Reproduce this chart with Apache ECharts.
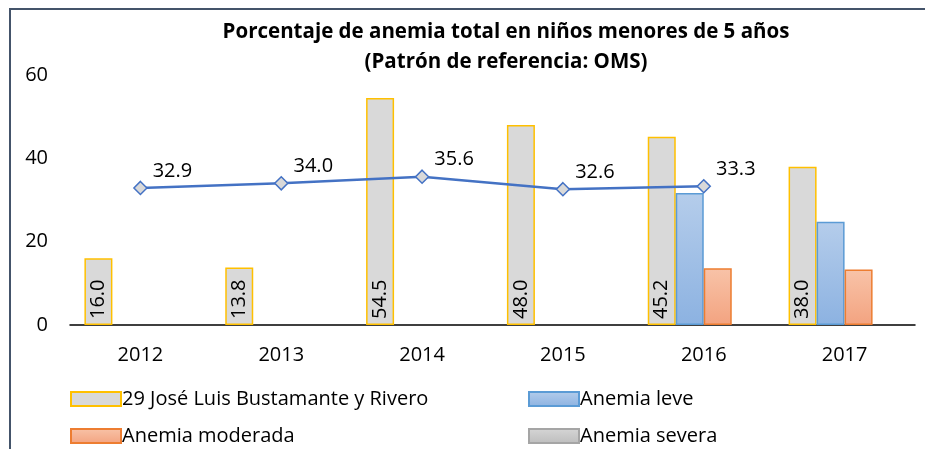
<!DOCTYPE html>
<html>
<head>
<meta charset="utf-8">
<script src="https://cdn.jsdelivr.net/npm/echarts@6/dist/echarts.min.js"></script>
<style>
  html, body { margin: 0; padding: 0; background: #fff; }
  #chart { width: 925px; height: 449px; }
</style>
</head>
<body>
<div id="chart"></div>
<script>
// --- Data ---
var years = ['2012', '2013', '2014', '2015', '2016', '2017'];
var totalDistrito = [16.0, 13.8, 54.5, 48.0, 45.2, 38.0];  // 29 José Luis Bustamante y Rivero
var anemiaLeve = [null, null, null, null, 31.7, 24.8];
var anemiaModerada = [null, null, null, null, 13.6, 13.3];
var anemiaSevera = [null, null, null, null, null, null];  // no visible bars
var regional = [32.9, 34.0, 35.6, 32.6, 33.3, null];  // line series
var yTicks = [0, 20, 40, 60];

var font = 'Open Sans';
var chart = echarts.init(document.getElementById('chart'));

function vgrad(top, bottom) {
  return new echarts.graphic.LinearGradient(0, 0, 0, 1, [
    { offset: 0, color: top },
    { offset: 1, color: bottom }
  ]);
}

// one legend box per entry, placed in a 2x2 layout
function legendAt(name, left, top) {
  return {
    left: left, top: top, itemWidth: 50, itemHeight: 14, icon: 'rect',
    textStyle: { fontSize: 20, color: '#000', fontFamily: font, padding: [0, 0, 0, -4] },
    data: [name]
  };
}

chart.setOption({
  animation: false,
  textStyle: { fontFamily: font },
  title: {
    text: 'Porcentaje de anemia total en niños menores de 5 años\n(Patrón de referencia: OMS)',
    left: 501,
    textAlign: 'center',
    top: 12,
    textStyle: { fontFamily: font, fontSize: 20.5, fontWeight: 'bold', color: '#000', lineHeight: 30 }
  },
  graphic: [{
    type: 'polyline',
    shape: { points: [[10, 449], [10, 9], [925, 9]] },
    style: { stroke: '#44546A', lineWidth: 2, fill: null }
  }],
  grid: { left: 70, right: 10, top: 75, bottom: 124, containLabel: false },
  legend: [
    legendAt('29 José Luis Bustamante y Rivero', 65, 384),
    legendAt('Anemia leve', 523, 384),
    legendAt('Anemia moderada', 65, 421),
    legendAt('Anemia severa', 523, 421)
  ],
  xAxis: {
    type: 'category',
    data: years,
    axisLine: { lineStyle: { color: '#000', width: 1.5 } },
    axisTick: { show: false },
    axisLabel: { fontSize: 20, color: '#000', margin: 20 }
  },
  yAxis: {
    type: 'value',
    min: yTicks[0],
    max: yTicks[yTicks.length - 1],
    interval: 20,
    splitLine: { show: false },
    axisLine: { show: false },
    axisTick: { show: false },
    axisLabel: { fontSize: 20, color: '#000', margin: 22 }
  },
  series: [{
    name: '29 José Luis Bustamante y Rivero',
    type: 'bar',
    data: totalDistrito,
    barWidth: 28,
    barGap: '0%',
    itemStyle: { color: '#D9D9D9', borderColor: '#FFC000', borderWidth: 1.5 },
    label: {
      show: true,
      position: 'insideBottom',
      rotate: 90,
      align: 'left',
      verticalAlign: 'middle',
      distance: 6,
      fontSize: 20,
      color: '#000',
      formatter: function (p) { return p.value.toFixed(1); }
    }
  }, {
    name: 'Anemia leve',
    type: 'bar',
    data: anemiaLeve,
    barWidth: 28,
    itemStyle: { color: vgrad('#B5CDEB', '#8CB2E1'), borderColor: '#5B9BD5', borderWidth: 1.5 }
  }, {
    name: 'Anemia moderada',
    type: 'bar',
    data: anemiaModerada,
    barWidth: 28,
    itemStyle: { color: vgrad('#F8C3A8', '#F3A380'), borderColor: '#ED7D31', borderWidth: 1.5 }
  }, {
    name: 'Anemia severa',
    type: 'bar',
    data: anemiaSevera,
    barWidth: 28,
    itemStyle: { color: vgrad('#D6D6D6', '#BDBDBD'), borderColor: '#A5A5A5', borderWidth: 1.5 }
  }, {
    name: 'Regional',
    type: 'line',
    data: regional,
    symbol: 'diamond',
    symbolSize: 13,
    lineStyle: { color: '#4472C4', width: 2.5 },
    itemStyle: { color: '#D9D9D9', borderColor: '#4472C4', borderWidth: 1.5 },
    label: {
      show: true,
      position: 'right',
      offset: [0, -17],
      fontSize: 20,
      color: '#000',
      formatter: function (p) { return p.value.toFixed(1); }
    }
  }]
});
</script>
</body>
</html>
